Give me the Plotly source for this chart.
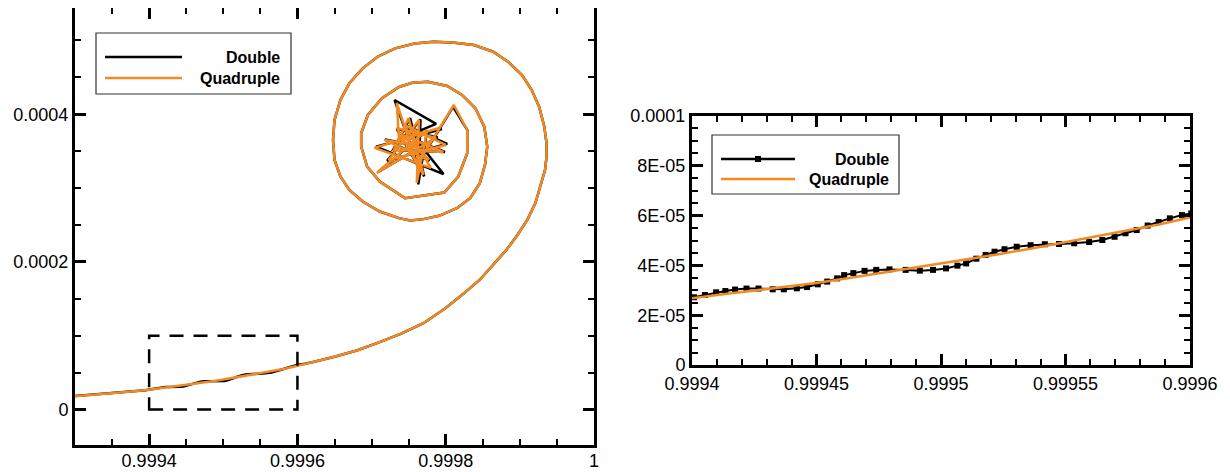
import plotly.graph_objects as go

# ---------------- data ----------------
# Double precision, lower section (wiggly), x < ~0.99962
lower_dbl_x = [0.99929, 0.99931, 0.99933, 0.99935, 0.99937, 0.99938, 0.999395,
               0.9994008, 0.9994052, 0.9994097, 0.9994134, 0.9994173, 0.9994219,
               0.9994267, 0.9994324, 0.9994369, 0.9994421, 0.9994462, 0.9994505,
               0.9994543, 0.9994583, 0.9994611, 0.9994648, 0.9994693, 0.999474,
               0.9994793, 0.9994858, 0.9994915, 0.9994968, 0.999502, 0.9995066,
               0.9995101, 0.9995142, 0.9995179, 0.9995215, 0.9995255, 0.9995304,
               0.999536, 0.9995417, 0.9995474, 0.9995535, 0.9995595, 0.9995648,
               0.9995697, 0.9995741, 0.9995786, 0.999583, 0.9995874, 0.9995919,
               0.9995968, 0.9996005, 0.999610]
lower_dbl_y = [1.75e-5, 1.9e-5, 2.05e-5, 2.2e-5, 2.4e-5, 2.5e-5, 2.63e-5,
               2.72e-5, 2.81e-5, 2.92e-5, 2.97e-5, 3.03e-5, 3.07e-5,
               3.07e-5, 3.04e-5, 3.04e-5, 3.08e-5, 3.13e-5, 3.24e-5,
               3.35e-5, 3.48e-5, 3.61e-5, 3.69e-5, 3.78e-5, 3.82e-5,
               3.84e-5, 3.82e-5, 3.79e-5, 3.82e-5, 3.88e-5, 3.99e-5,
               4.08e-5, 4.27e-5, 4.42e-5, 4.55e-5, 4.65e-5, 4.75e-5,
               4.81e-5, 4.85e-5, 4.86e-5, 4.89e-5, 4.94e-5, 5.02e-5,
               5.15e-5, 5.29e-5, 5.42e-5, 5.60e-5, 5.74e-5, 5.89e-5,
               6.02e-5, 6.08e-5, 6.22e-5]

# Quadruple precision, lower section (smooth)
lower_quad_x = [0.99929, 0.99932, 0.99935, 0.99938, 0.9994, 0.9994125, 0.999425,
                0.9994375, 0.99945, 0.9994625, 0.999475, 0.9994875, 0.9995,
                0.9995125, 0.999525, 0.9995375, 0.99955, 0.9995625, 0.999575,
                0.9995875, 0.9996, 0.99961]
lower_quad_y = [1.72e-5, 1.95e-5, 2.2e-5, 2.48e-5, 2.68e-5, 2.84e-5, 2.99e-5,
                3.14e-5, 3.29e-5, 3.48e-5, 3.68e-5, 3.87e-5, 4.06e-5,
                4.27e-5, 4.48e-5, 4.70e-5, 4.93e-5, 5.15e-5, 5.38e-5,
                5.64e-5, 5.92e-5, 6.15e-5]

# Shared rising branch and spiral (both precisions coincide here)
spiral_x = [0.99962, 0.99965, 0.99968, 0.99971, 0.99974, 0.99977, 0.9998,
            0.999825, 0.999846, 0.999866, 0.999882, 0.999897, 0.99991, 0.999921,
            0.999928, 0.999934, 0.999936, 0.999936, 0.999933, 0.999926, 0.999916,
            0.999903, 0.999884, 0.999864, 0.999838, 0.999809, 0.999783, 0.999758,
            0.999732, 0.999708, 0.999688, 0.99967, 0.999658, 0.99965, 0.999648,
            0.99965, 0.999658, 0.99967, 0.999688, 0.999711, 0.999737, 0.999752,
            0.99977, 0.999791, 0.999815, 0.999833, 0.999846, 0.999853, 0.999856,
            0.999852, 0.99984, 0.999822, 0.999802, 0.999776, 0.999755, 0.999737,
            0.999714, 0.999695, 0.999686, 0.999686, 0.999694, 0.999711, 0.999745,
            0.999798, 0.999817, 0.999829, 0.999829]
spiral_y = [6.4e-5, 7.15e-5, 8.0e-5, 9.1e-5, 1.03e-4, 1.17e-4, 1.375e-4,
            1.578e-4, 1.759e-4, 1.984e-4, 2.165e-4, 2.368e-4, 2.57e-4, 2.796e-4,
            3.022e-4, 3.247e-4, 3.427e-4, 3.608e-4, 3.833e-4, 4.104e-4, 4.329e-4,
            4.532e-4, 4.713e-4, 4.848e-4, 4.938e-4, 4.974e-4, 4.983e-4, 4.96e-4,
            4.893e-4, 4.78e-4, 4.622e-4, 4.42e-4, 4.194e-4, 3.923e-4, 3.653e-4,
            3.382e-4, 3.157e-4, 2.976e-4, 2.819e-4, 2.683e-4, 2.593e-4, 2.56e-4,
            2.58e-4, 2.625e-4, 2.728e-4, 2.864e-4, 3.067e-4, 3.315e-4, 3.563e-4,
            3.833e-4, 4.081e-4, 4.262e-4, 4.383e-4, 4.442e-4, 4.428e-4, 4.37e-4,
            4.217e-4, 3.991e-4, 3.743e-4, 3.563e-4, 3.292e-4, 3.089e-4, 2.864e-4,
            2.94e-4, 3.157e-4, 3.473e-4, 3.788e-4]

# Chaotic core, Double
chaos_dbl_x = [0.99981, 0.999762, 0.999731, 0.999787, 0.999737, 0.999795, 0.999706,
               0.999797, 0.999744, 0.999802, 0.999721, 0.999766, 0.999763,
               0.999775, 0.999709, 0.999789, 0.999734, 0.999771, 0.999752,
               0.999729, 0.999799, 0.999742, 0.999778, 0.999718, 0.999757,
               0.999765, 0.999752, 0.99976]
chaos_dbl_y = [4.10e-4, 3.32e-4, 4.194e-4, 3.87e-4, 3.66e-4, 3.80e-4, 3.56e-4,
               3.19e-4, 3.86e-4, 3.60e-4, 3.37e-4, 3.93e-4, 3.05e-4,
               3.78e-4, 3.22e-4, 3.69e-4, 3.80e-4, 3.16e-4, 3.95e-4,
               3.52e-4, 3.49e-4, 3.72e-4, 3.37e-4, 3.66e-4, 3.58e-4,
               3.72e-4, 3.52e-4, 3.63e-4]

# Chaotic core, Quadruple
chaos_quad_x = [0.999811, 0.999761, 0.999734, 0.999737, 0.999791, 0.999704,
                0.99978, 0.999744, 0.9998, 0.999723, 0.999764, 0.999761,
                0.999775, 0.999707, 0.999787, 0.999734, 0.99977, 0.99975,
                0.99973, 0.999797, 0.999741, 0.999777, 0.999717, 0.999758,
                0.999764, 0.999753, 0.999761]
chaos_quad_y = [4.126e-4, 3.315e-4, 4.153e-4, 3.653e-4, 3.815e-4, 3.545e-4,
                3.274e-4, 3.856e-4, 3.585e-4, 3.382e-4, 3.923e-4, 3.071e-4,
                3.788e-4, 3.206e-4, 3.68e-4, 3.815e-4, 3.179e-4, 3.95e-4,
                3.517e-4, 3.49e-4, 3.72e-4, 3.382e-4, 3.653e-4, 3.585e-4,
                3.72e-4, 3.517e-4, 3.626e-4]

series_names = ["Double", "Quadruple"]

# axes
left_x_range = [0.9993, 1.0]
left_y_range = [-0.000048, 0.000544]
left_x_ticks = [0.9994, 0.9996, 0.9998, 1.0]
left_x_labels = ["0.9994", "0.9996", "0.9998", "1"]
left_y_ticks = [0, 0.0002, 0.0004]
left_y_labels = ["0", "0.0002", "0.0004"]

ZOOM_X = [0.9994, 0.9996]
ZOOM_Y = [0.0, 0.0001]
right_x_ticks = [0.9994, 0.99945, 0.9995, 0.99955, 0.9996]
right_x_labels = ["0.9994", "0.99945", "0.9995", "0.99955", "0.9996"]
right_y_ticks = [0, 2e-5, 4e-5, 6e-5, 8e-5, 1e-4]
right_y_labels = ["0", "2E-05", "4E-05", "6E-05", "8E-05", "0.0001"]

# ---------------- figure ----------------
# the page body has an 8px margin: the figure is sized to fill the rest of the window
OFF = 8
W, H = 1230 - OFF, 472 - OFF
ORANGE = "#F28A24"
FONT = "Liberation Sans, Arial, Helvetica, sans-serif"

dbl_x = lower_dbl_x + spiral_x + chaos_dbl_x
dbl_y = lower_dbl_y + spiral_y + chaos_dbl_y
quad_x = lower_quad_x + spiral_x + chaos_quad_x
quad_y = lower_quad_y + spiral_y + chaos_quad_y

fig = go.Figure()
fig.add_trace(go.Scatter(x=dbl_x, y=dbl_y, mode="lines", name=series_names[0],
                         line=dict(color="black", width=2.5), xaxis="x", yaxis="y",
                         showlegend=False))
fig.add_trace(go.Scatter(x=quad_x, y=quad_y, mode="lines", name=series_names[1],
                         line=dict(color=ORANGE, width=2.5), xaxis="x", yaxis="y",
                         showlegend=False))
fig.add_trace(go.Scatter(x=dbl_x, y=dbl_y, mode="lines+markers", name=series_names[0],
                         line=dict(color="black", width=2),
                         marker=dict(symbol="square", size=6, color="black"),
                         xaxis="x2", yaxis="y2", showlegend=False))
fig.add_trace(go.Scatter(x=quad_x, y=quad_y, mode="lines", name=series_names[1],
                         line=dict(color=ORANGE, width=2.5), xaxis="x2", yaxis="y2",
                         showlegend=False))


def axis(domain, rng, tickvals, ticktext, minor_tick0, minor_dtick, anchor, standoff=0):
    return dict(domain=domain, range=rng, anchor=anchor, automargin=False,
                tickmode="array", tickvals=tickvals,
                ticktext=ticktext, showline=True, linewidth=3, linecolor="black",
                mirror="allticks", ticks="inside", ticklen=11, tickwidth=2.5,
                tickcolor="black", showgrid=False, zeroline=False,
                ticklabelstandoff=standoff,
                tickfont=dict(family=FONT, size=18, color="black"),
                minor=dict(ticks="inside", ticklen=6, tickwidth=1.5, tickcolor="black",
                           tickmode="linear", tick0=minor_tick0, dtick=minor_dtick,
                           showgrid=False))


def px_x(p):
    return (p - OFF) / W


def px_y(p):
    return 1 - (p - OFF) / H


fig.update_layout(
    width=W, height=H, margin=dict(l=0, r=0, t=0, b=0, pad=0), autosize=False,
    paper_bgcolor="white", plot_bgcolor="white", showlegend=False,
    xaxis=axis([px_x(75), px_x(594)], left_x_range, left_x_ticks, left_x_labels, 0.9993, 0.00005, "y", -3),
    yaxis=axis([px_y(445), px_y(8)], left_y_range, left_y_ticks, left_y_labels, 0, 0.00005, "x"),
    xaxis2=axis([px_x(692), px_x(1190)], ZOOM_X, right_x_ticks, right_x_labels, 0.9994, 0.00001, "y2"),
    yaxis2=axis([px_y(365), px_y(116)], ZOOM_Y, right_y_ticks, right_y_labels, 0, 0.000005, "x2"),
)

shapes = []
annotations = []
# dashed zoom rectangle on the left panel
shapes.append(dict(type="rect", xref="x", yref="y", x0=ZOOM_X[0], x1=ZOOM_X[1],
                   y0=ZOOM_Y[0], y1=ZOOM_Y[1],
                   line=dict(color="black", width=2.5, dash="14px,10px")))


def legend(box, line_x, rows_y, text_x, marker_x=None):
    shapes.append(dict(type="rect", xref="paper", yref="paper",
                       x0=px_x(box[0]), x1=px_x(box[1]), y0=px_y(box[3]), y1=px_y(box[2]),
                       line=dict(color="#333333", width=1.2), fillcolor="white", layer="above"))
    colors = ["black", ORANGE]
    for i, name in enumerate(series_names):
        shapes.append(dict(type="line", xref="paper", yref="paper",
                           x0=px_x(line_x[0]), x1=px_x(line_x[1]),
                           y0=px_y(rows_y[i]), y1=px_y(rows_y[i]),
                           line=dict(color=colors[i], width=2.5)))
        annotations.append(dict(xref="paper", yref="paper", x=px_x(text_x), y=px_y(rows_y[i]),
                                xanchor="right", yanchor="middle", showarrow=False,
                                text="<b>%s</b>" % name,
                                font=dict(family=FONT, size=16, color="black")))
    if marker_x is not None:
        shapes.append(dict(type="rect", xref="paper", yref="paper",
                           x0=px_x(marker_x - 3), x1=px_x(marker_x + 3),
                           y0=px_y(rows_y[0] + 3), y1=px_y(rows_y[0] - 3),
                           line=dict(width=0), fillcolor="black"))


legend((96, 291, 33, 94), (105, 182), (57, 78), 282)
legend((712, 899, 135, 194), (721, 795), (159, 179), 891, marker_x=758)

fig.update_layout(shapes=shapes, annotations=annotations)
fig.write_html("out.html")
